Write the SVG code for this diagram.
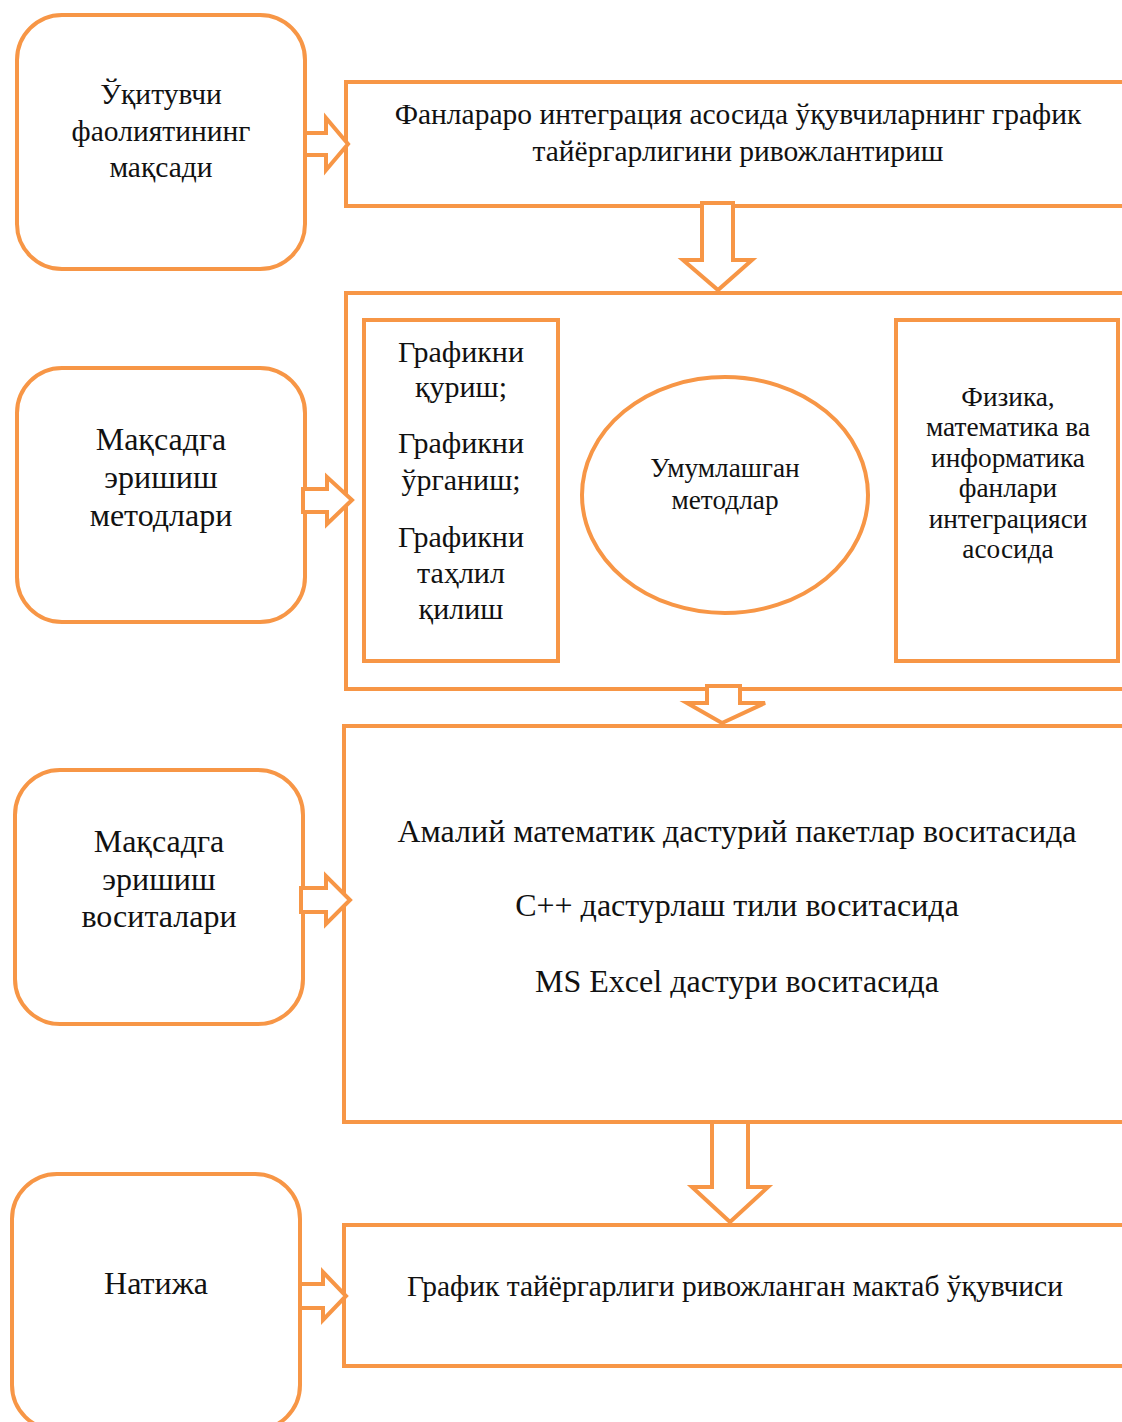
<svg xmlns="http://www.w3.org/2000/svg" width="1122" height="1422" viewBox="0 0 1122 1422">
<style>
.b{fill:#fff;stroke:#F79646;stroke-width:4}
.a{fill:#fff;stroke:#F79646;stroke-width:4;stroke-linejoin:miter}
text{font-family:"Liberation Serif","Times New Roman",serif;fill:#111;text-anchor:middle}
.t29{font-size:29.5px}
.t30{font-size:30px}
.t32{font-size:32px}
.t27{font-size:27.3px}
</style>
<rect width="1122" height="1422" fill="#fff"/>
<g id="left1"><rect class="b" x="17" y="15" width="288" height="254" rx="45"/>
<text class="t29" x="161" y="104">Ўқитувчи</text><text class="t29" x="161" y="141">фаолиятининг</text><text class="t29" x="161" y="177">мақсади</text></g>
<g id="left2"><rect class="b" x="17" y="368" width="288" height="254" rx="45"/>
<text class="t32" x="161" y="450">Мақсадга</text><text class="t32" x="161" y="488">эришиш</text><text class="t32" x="161" y="526">методлари</text></g>
<g id="left3"><rect class="b" x="15" y="770" width="288" height="254" rx="45"/>
<text class="t32" x="159" y="852">Мақсадга</text><text class="t32" x="159" y="890">эришиш</text><text class="t32" x="159" y="927">воситалари</text></g>
<g id="left4"><rect class="b" x="12" y="1174" width="288" height="256" rx="45"/>
<text class="t32" x="156" y="1294">Натижа</text></g>
<g id="right1"><rect class="b" x="346" y="82" width="790" height="124"/>
<text class="t29" x="738" y="124">Фанлараро интеграция асосида ўқувчиларнинг график</text><text class="t29" x="738" y="161">тайёргарлигини ривожлантириш</text></g>
<g id="right2"><rect class="b" x="346" y="293" width="790" height="396"/></g>
<g id="methods"><rect class="b" x="364" y="320" width="194" height="341"/>
<text class="t30" x="461" y="362">Графикни</text><text class="t30" x="461" y="397">қуриш;</text><text class="t30" x="461" y="453">Графикни</text><text class="t30" x="461" y="490">ўрганиш;</text><text class="t30" x="461" y="547">Графикни</text><text class="t30" x="461" y="583">таҳлил</text><text class="t30" x="461" y="619">қилиш</text></g>
<g id="general"><ellipse class="b" cx="725" cy="495" rx="143" ry="118"/>
<text class="t27" x="725" y="477">Умумлашган</text><text class="t27" x="725" y="509">методлар</text></g>
<g id="integration"><rect class="b" x="896" y="320" width="222" height="341"/>
<text class="t27" x="1008" y="406">Физика,</text><text class="t27" x="1008" y="436">математика ва</text><text class="t27" x="1008" y="467">информатика</text><text class="t27" x="1008" y="497">фанлари</text><text class="t27" x="1008" y="528">интеграцияси</text><text class="t27" x="1008" y="558">асосида</text></g>
<g id="right3"><rect class="b" x="344" y="726" width="792" height="396"/>
<text class="t32" x="737" y="842">Амалий математик дастурий пакетлар воситасида</text><text class="t32" x="737" y="916">C++ дастурлаш тили воситасида</text><text class="t32" x="737" y="992">MS Excel дастури воситасида</text></g>
<g id="right4"><rect class="b" x="344" y="1225" width="792" height="141"/>
<text class="t29" x="735" y="1296">График тайёргарлиги ривожланган мактаб ўқувчиси</text></g>
<g id="connectors">
<path class="a" d="M305,133 H326 V118 L348,144 L326,170 V155 H305 Z"/>
<path class="a" d="M303,489 H327 V477 L352,500 L327,524 V512 H303 Z"/>
<path class="a" d="M301,888 H326 V876 L350,900 L326,924 V912 H301 Z"/>
<path class="a" d="M300,1284 H323 V1272 L346,1296 L323,1320 V1308 H300 Z"/>
<path class="a" d="M702,203 H733 V260 H752 L718,290 L683,260 H702 Z"/>
<path class="a" d="M707,686 H740 V703 H765 L722,723 L687,703 H707 Z"/>
<path class="a" d="M712,1122 H748 V1187 H768 L730,1222 L692,1187 H712 Z"/>
</g>
</svg>
